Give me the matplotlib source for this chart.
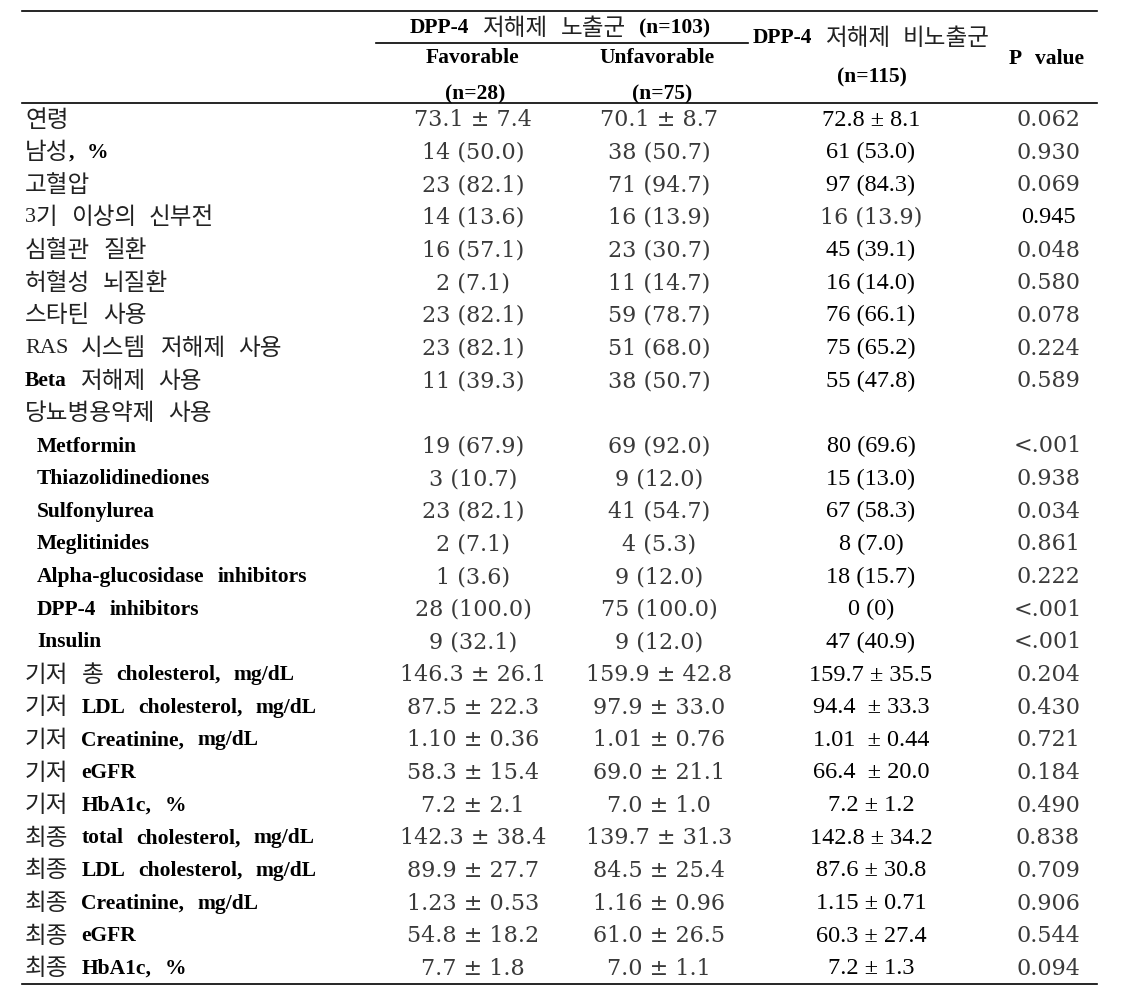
import matplotlib
matplotlib.use("Agg")
import matplotlib.pyplot as plt

# ---------------- data ----------------
row_labels = [
    "연령", "남성, %", "고혈압", "3기 이상의 신부전", "심혈관 질환", "허혈성 뇌질환",
    "스타틴 사용", "RAS 시스템 저해제 사용", "Beta 저해제 사용", "당뇨병용약제 사용",
    "Metformin", "Thiazolidinediones", "Sulfonylurea", "Meglitinides",
    "Alpha-glucosidase inhibitors", "DPP-4 inhibitors", "Insulin",
    "기저 총 cholesterol, mg/dL", "기저 LDL cholesterol, mg/dL", "기저 Creatinine, mg/dL",
    "기저 eGFR", "기저 HbA1c, %", "최종 total cholesterol, mg/dL",
    "최종 LDL cholesterol, mg/dL", "최종 Creatinine, mg/dL", "최종 eGFR", "최종 HbA1c, %",
]
favorable = [
    "73.1 ± 7.4", "14 (50.0)", "23 (82.1)", "14 (13.6)", "16 (57.1)", "2 (7.1)",
    "23 (82.1)", "23 (82.1)", "11 (39.3)", "",
    "19 (67.9)", "3 (10.7)", "23 (82.1)", "2 (7.1)", "1 (3.6)", "28 (100.0)", "9 (32.1)",
    "146.3 ± 26.1", "87.5 ± 22.3", "1.10 ± 0.36", "58.3 ± 15.4", "7.2 ± 2.1",
    "142.3 ± 38.4", "89.9 ± 27.7", "1.23 ± 0.53", "54.8 ± 18.2", "7.7 ± 1.8",
]
unfavorable = [
    "70.1 ± 8.7", "38 (50.7)", "71 (94.7)", "16 (13.9)", "23 (30.7)", "11 (14.7)",
    "59 (78.7)", "51 (68.0)", "38 (50.7)", "",
    "69 (92.0)", "9 (12.0)", "41 (54.7)", "4 (5.3)", "9 (12.0)", "75 (100.0)", "9 (12.0)",
    "159.9 ± 42.8", "97.9 ± 33.0", "1.01 ± 0.76", "69.0 ± 21.1", "7.0 ± 1.0",
    "139.7 ± 31.3", "84.5 ± 25.4", "1.16 ± 0.96", "61.0 ± 26.5", "7.0 ± 1.1",
]
nonexposed = [
    "72.8 ± 8.1", "61 (53.0)", "97 (84.3)", "16 (13.9)", "45 (39.1)", "16 (14.0)",
    "76 (66.1)", "75 (65.2)", "55 (47.8)", "",
    "80 (69.6)", "15 (13.0)", "67 (58.3)", "8 (7.0)", "18 (15.7)", "0 (0)", "47 (40.9)",
    "159.7 ± 35.5", "94.4  ± 33.3", "1.01  ± 0.44", "66.4  ± 20.0", "7.2 ± 1.2",
    "142.8 ± 34.2", "87.6 ± 30.8", "1.15 ± 0.71", "60.3 ± 27.4", "7.2 ± 1.3",
]
p_values = [
    "0.062", "0.930", "0.069", "0.945", "0.048", "0.580", "0.078", "0.224", "0.589", "",
    "<.001", "0.938", "0.034", "0.861", "0.222", "<.001", "<.001",
    "0.204", "0.430", "0.721", "0.184", "0.490", "0.838", "0.709", "0.906", "0.544", "0.094",
]
header_exposed = "DPP-4 저해제 노출군 (n=103)"
header_fav = ["Favorable", "(n=28)"]
header_unfav = ["Unfavorable", "(n=75)"]
header_nonexp = ["DPP-4 저해제 비노출군", "(n=115)"]
header_p = "P value"

# ---------------- styles / layout ----------------
W, H = 1147, 998
KO = "Noto Sans CJK KR"
SERIF = "Liberation Serif"
WIDE = "DejaVu Serif"
FS_KO = 17.0
FS_B = 15.5
FS_WIDE = 16.0
FS_T = 17.5
GREY = "#3a3a3a"
PX = 100 / 72
KO_GAP = 13      # px between Korean words (ink to ink)
LAT_GAP = 0.6    # em between latin words

indented_rows = set(range(10, 17))
regular_latin_words = {"RAS"}
# cells drawn in the alternate font (col index 2 = non-exposed, 3 = p value)
alt_font_cells = {(3, 2), (3, 3)}

fig = plt.figure(figsize=(W / 100, H / 100), dpi=100)
ax = fig.add_axes([0, 0, 1, 1])
ax.set_xlim(0, W)
ax.set_ylim(H, 0)
ax.axis("off")
renderer = fig.canvas.get_renderer()

ROW0, ROWH = 120.0, 32.65


def row_y(i):
    return ROW0 + ROWH * i


def style_of(kind):
    if kind == "ko":
        return dict(family=[KO, "DejaVu Sans"], fontsize=FS_KO, fontweight="normal", color="#222")
    if kind == "b":
        return dict(family=[SERIF, KO], fontsize=FS_B, fontweight="bold", color="#000")
    if kind == "r":
        return dict(family=[SERIF, KO], fontsize=FS_B + 0.5, fontweight="normal", color="#222")
    raise ValueError(kind)


def is_korean(ch):
    return "\uac00" <= ch <= "\ud7a3"


def word_runs(s):
    """each word becomes its own run; leading digits before Hangul are split off"""
    runs = []
    for w in s.split():
        if any(is_korean(c) for c in w):
            k = 0
            while k < len(w) and not is_korean(w[k]):
                k += 1
            if k > 0:
                runs.append((w[:k], "r", True))
                runs.append((w[k:], "ko", False))
            elif w.endswith(","):
                runs.append((w[:-1], "ko", True))
                runs.append((",", "b", False))
            else:
                runs.append((w, "ko", True))
        elif w in regular_latin_words:
            runs.append((w, "r", True))
        else:
            runs.append((w, "b", True))
    return runs


def draw_runs(x, y, runs, align="left"):
    texts = []
    cx = x
    prev_kind = None
    for k, (txt, kind, gap) in enumerate(runs):
        st = style_of(kind)
        if k > 0 and gap:
            if kind == "ko" or prev_kind == "ko":
                cx += KO_GAP
            else:
                cx += LAT_GAP * st["fontsize"] * PX
        t = ax.text(cx, y, txt, ha="left", va="center", **st)
        cx += t.get_window_extent(renderer=renderer).width
        texts.append(t)
        prev_kind = kind
    if align == "center":
        total = cx - x
        for t in texts:
            t.set_x(t.get_position()[0] - total / 2)
    return texts


# ---------------- rules ----------------
ax.plot([22, 1097], [11, 11], color="black", lw=1.2)
ax.plot([376, 748], [43, 43], color="black", lw=1.2)
ax.plot([22, 1097], [103, 103], color="black", lw=1.2)
ax.plot([22, 1097], [984, 984], color="black", lw=1.2)

# ---------------- header ----------------
draw_runs(560, 28, word_runs(header_exposed), align="center")
draw_runs(472, 58, word_runs(header_fav[0]), align="center")
draw_runs(475, 94, word_runs(header_fav[1]), align="center")
draw_runs(657, 58, word_runs(header_unfav[0]), align="center")
draw_runs(662, 94, word_runs(header_unfav[1]), align="center")
draw_runs(871, 38, word_runs(header_nonexp[0]), align="center")
draw_runs(872, 77, word_runs(header_nonexp[1]), align="center")
draw_runs(1046, 59, word_runs(header_p), align="center")

# ---------------- body ----------------
col_x = [473, 659, 871, 1048]
for i, lab in enumerate(row_labels):
    y = row_y(i)
    x0 = 37 if i in indented_rows else 25
    draw_runs(x0, y, word_runs(lab))

    cols = [favorable[i], unfavorable[i], nonexposed[i], p_values[i]]
    for j, val in enumerate(cols):
        if not val:
            continue
        wide = j in (0, 1, 3)
        if (i, j) in alt_font_cells:
            wide = not wide
        if wide:
            ax.text(col_x[j], y, val, ha="center", va="center", family=WIDE,
                    fontsize=FS_WIDE, color=GREY)
        else:
            ax.text(col_x[j], y, val, ha="center", va="center", family=SERIF,
                    fontsize=FS_T, color="#000")

fig.savefig("out.png", dpi=100)
